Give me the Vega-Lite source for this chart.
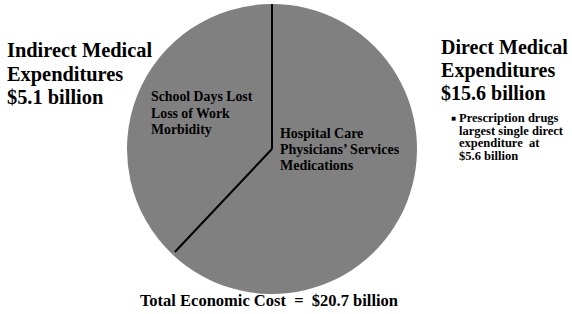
{
  "$schema": "https://vega.github.io/schema/vega-lite/v6.json",
  "width": 290,
  "height": 290,
  "autosize": {"type": "none"},
  "padding": {"left": 127, "top": 4, "right": 155, "bottom": 20},
  "background": "white",
  "config": {
    "view": {"stroke": null},
    "text": {"font": "Times New Roman, Liberation Serif, Tinos, serif", "fontWeight": "bold", "color": "black", "lineBreak": "\n"}
  },
  "data": {
    "values": [
      {"segment": "Direct", "order": 1, "amount": 15.6, "drawn_share": 62,
       "title": "Direct Medical\nExpenditures\n$15.6 billion",
       "components": "\u00a0Hospital Care\nPhysicians’ Services\nMedications",
       "note": "Prescription drugs\nlargest single direct\nexpenditure \u00a0at\n$5.6 billion"},
      {"segment": "Indirect", "order": 2, "amount": 5.1, "drawn_share": 38,
       "title": "Indirect Medical\nExpenditures\n$5.1 billion",
       "components": "School Days Lost\nLoss of Work\nMorbidity",
       "note": ""}
    ]
  },
  "layer": [
    {
      "mark": {"type": "arc", "fill": "#808080", "stroke": null},
      "encoding": {
        "theta": {"field": "drawn_share", "type": "quantitative", "stack": true},
        "order": {"field": "order", "type": "ordinal"}
      }
    },
    {
      "transform": [{"filter": "datum.segment === 'Direct'"}],
      "mark": {"type": "rule", "color": "black", "strokeWidth": 2},
      "encoding": {
        "x": {"datum": 0, "type": "quantitative", "scale": {"domain": [-1, 1], "nice": false, "zero": false}, "axis": null},
        "y": {"datum": 0, "type": "quantitative", "scale": {"domain": [-1, 1], "nice": false, "zero": false}, "axis": null},
        "x2": {"datum": 0},
        "y2": {"datum": 1}
      }
    },
    {
      "transform": [{"filter": "datum.segment === 'Indirect'"}],
      "mark": {"type": "rule", "color": "black", "strokeWidth": 2},
      "encoding": {
        "x": {"datum": 0, "type": "quantitative"},
        "y": {"datum": 0, "type": "quantitative"},
        "x2": {"datum": -0.67},
        "y2": {"datum": -0.71}
      }
    },
    {
      "transform": [{"filter": "datum.segment === 'Indirect'"}],
      "mark": {"type": "text", "align": "left", "baseline": "alphabetic", "fontSize": 20.4, "lineHeight": 23.5},
      "encoding": {
        "x": {"datum": -1.828, "type": "quantitative"},
        "y": {"datum": 0.634, "type": "quantitative"},
        "text": {"field": "title"}
      }
    },
    {
      "transform": [{"filter": "datum.segment === 'Direct'"}],
      "mark": {"type": "text", "align": "left", "baseline": "alphabetic", "fontSize": 20, "lineHeight": 23},
      "encoding": {
        "x": {"datum": 1.166, "type": "quantitative"},
        "y": {"datum": 0.655, "type": "quantitative"},
        "text": {"field": "title"}
      }
    },
    {
      "transform": [{"filter": "datum.segment === 'Direct'"}],
      "mark": {"type": "text", "align": "left", "baseline": "alphabetic", "fontSize": 12.5, "lineHeight": 12.7},
      "encoding": {
        "x": {"datum": 1.29, "type": "quantitative"},
        "y": {"datum": 0.186, "type": "quantitative"},
        "text": {"field": "note"}
      }
    },
    {
      "transform": [{"filter": "datum.segment === 'Direct'"}],
      "mark": {"type": "text", "align": "left", "baseline": "alphabetic", "fontSize": 5, "font": "DejaVu Sans", "text": "■"},
      "encoding": {
        "x": {"datum": 1.236, "type": "quantitative"},
        "y": {"datum": 0.2, "type": "quantitative"}
      }
    },
    {
      "transform": [{"filter": "datum.segment === 'Indirect'"}],
      "mark": {"type": "text", "align": "left", "baseline": "alphabetic", "fontSize": 13.8, "lineHeight": 16.5},
      "encoding": {
        "x": {"datum": -0.834, "type": "quantitative"},
        "y": {"datum": 0.331, "type": "quantitative"},
        "text": {"field": "components"}
      }
    },
    {
      "transform": [{"filter": "datum.segment === 'Direct'"}],
      "mark": {"type": "text", "align": "left", "baseline": "alphabetic", "fontSize": 14, "lineHeight": 16},
      "encoding": {
        "x": {"datum": 0.055, "type": "quantitative"},
        "y": {"datum": 0.076, "type": "quantitative"},
        "text": {"field": "components"}
      }
    },
    {
      "transform": [{"filter": "datum.segment === 'Direct'"}],
      "mark": {"type": "text", "align": "center", "baseline": "alphabetic", "fontSize": 16.5, "text": "Total Economic Cost \u00a0= \u00a0$20.7 billion"},
      "encoding": {
        "x": {"datum": -0.021, "type": "quantitative"},
        "y": {"datum": -1.086, "type": "quantitative"}
      }
    }
  ]
}
